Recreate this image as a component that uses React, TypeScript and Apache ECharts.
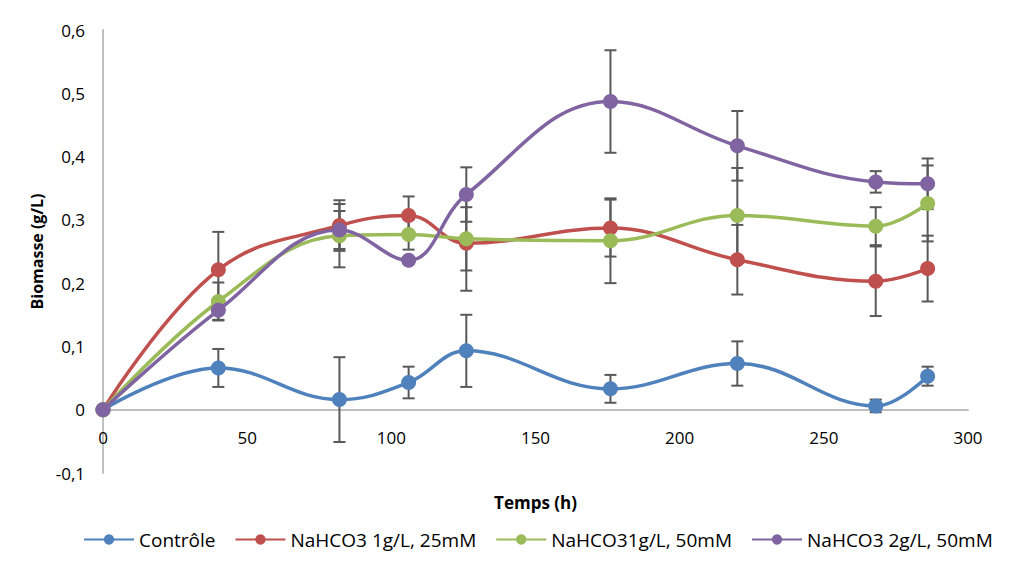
import React, { useEffect, useRef } from "react";
import * as echarts from "echarts";

const hours = [0, 40, 82, 106, 126, 176, 220, 268, 286];
const seriesNames = ["Contrôle", "NaHCO3 1g/L, 25mM", "NaHCO31g/L, 50mM", "NaHCO3 2g/L, 50mM"];
const colors = ["#4F81BD", "#C0504D", "#9BBB59", "#8064A2"];

const controle = [0, 0.066, 0.016, 0.043, 0.093, 0.033, 0.073, 0.006, 0.053];
const controleErr = [0, 0.03, 0.067, 0.025, 0.057, 0.022, 0.035, 0.01, 0.015];
const nahco1 = [0, 0.221, 0.291, 0.307, 0.263, 0.287, 0.237, 0.203, 0.223];
const nahco1Err = [0, 0.06, 0.04, 0.03, 0.075, 0.045, 0.055, 0.055, 0.052];
const nahco31 = [0, 0.171, 0.275, 0.277, 0.27, 0.267, 0.307, 0.29, 0.326];
const nahco31Err = [0, 0.03, 0.05, 0.024, 0.05, 0.067, 0.075, 0.03, 0.06];
const nahco2 = [0, 0.157, 0.284, 0.236, 0.34, 0.487, 0.417, 0.36, 0.357];
const nahco2Err = [0, 0.015, 0.03, 0.005, 0.043, 0.081, 0.055, 0.017, 0.04];

const yTicks = { min: -0.1, max: 0.6, interval: 0.1 };
const xTicks = { min: 0, max: 300, interval: 50 };

const allValues = [controle, nahco1, nahco31, nahco2];
const allErrs = [controleErr, nahco1Err, nahco31Err, nahco2Err];

const FONT = "'Open Sans', 'Noto Sans', sans-serif";

export default function App() {
  const ref = useRef<HTMLDivElement>(null);
  useEffect(() => {
    document.body.style.margin = "0";
    if (!ref.current) return;
    const chart = echarts.init(ref.current, null, { renderer: "svg" });

    const errSeries = allValues.map((vals, si) => ({
      type: "custom",
      name: seriesNames[si] + " err",
      z: 1,
      silent: true,
      renderItem: (params: any, api: any) => {
        const x = api.value(0);
        const y = api.value(1);
        const e = api.value(2);
        if (!e) return null;
        const top = api.coord([x, y + e]);
        const bot = api.coord([x, y - e]);
        const cap = 6;
        const style = { stroke: "#595959", lineWidth: 2 };
        return {
          type: "group",
          children: [
            { type: "line", shape: { x1: top[0], y1: top[1], x2: bot[0], y2: bot[1] }, style },
            { type: "line", shape: { x1: top[0] - cap, y1: top[1], x2: top[0] + cap, y2: top[1] }, style },
            { type: "line", shape: { x1: bot[0] - cap, y1: bot[1], x2: bot[0] + cap, y2: bot[1] }, style },
          ],
        };
      },
      data: hours.map((h, i) => [h, vals[i], allErrs[si][i]]),
    }));

    const lineSeries = allValues.map((vals, si) => ({
      type: "line",
      name: seriesNames[si],
      z: 3 + si,
      smooth: 0.4,
      symbol: "circle",
      symbolSize: 15,
      lineStyle: { color: colors[si], width: 3.5 },
      itemStyle: { color: colors[si] },
      data: hours.map((h, i) => [h, vals[i]]),
    }));

    chart.setOption({
      animation: false,
      backgroundColor: "#ffffff",
      grid: { left: 103, right: 51, top: 30, bottom: 103 },
      legend: {
        data: seriesNames,
        top: 525,
        left: 78,
        itemWidth: 50,
        itemHeight: 13,
        itemGap: 19,
        textStyle: { fontFamily: FONT, fontSize: 19, color: "#000" },
      },
      xAxis: {
        type: "value",
        min: xTicks.min,
        max: xTicks.max,
        interval: xTicks.interval,
        offset: -63,
        name: "Temps (h)",
        nameLocation: "middle",
        nameGap: 84,
        nameTextStyle: { fontFamily: FONT, fontSize: 17, fontWeight: "bold", color: "#000" },
        axisLine: { onZero: false, lineStyle: { color: "#BFBFBF", width: 2 } },
        axisTick: { show: false },
        splitLine: { show: false },
        axisLabel: { fontFamily: FONT, fontSize: 17, color: "#000", margin: 19 },
      },
      yAxis: {
        type: "value",
        min: yTicks.min,
        max: yTicks.max,
        interval: yTicks.interval,
        name: "Biomasse (g/L)",
        nameLocation: "middle",
        nameGap: 56,
        nameTextStyle: { fontFamily: FONT, fontSize: 16, fontWeight: "bold", color: "#000" },
        axisLine: { show: true, onZero: false, lineStyle: { color: "#BFBFBF", width: 2 } },
        axisTick: { show: false },
        splitLine: { show: false },
        axisLabel: {
          fontFamily: FONT,
          fontSize: 17,
          color: "#000",
          margin: 18,
          formatter: (v: number) => {
            const r = Math.round(v * 10) / 10;
            return String(r).replace(".", ",");
          },
        },
      },
      series: [...errSeries, ...lineSeries],
    });
    return () => chart.dispose();
  }, []);
  return <div ref={ref} style={{ width: 1019, height: 576 }} />;
}
